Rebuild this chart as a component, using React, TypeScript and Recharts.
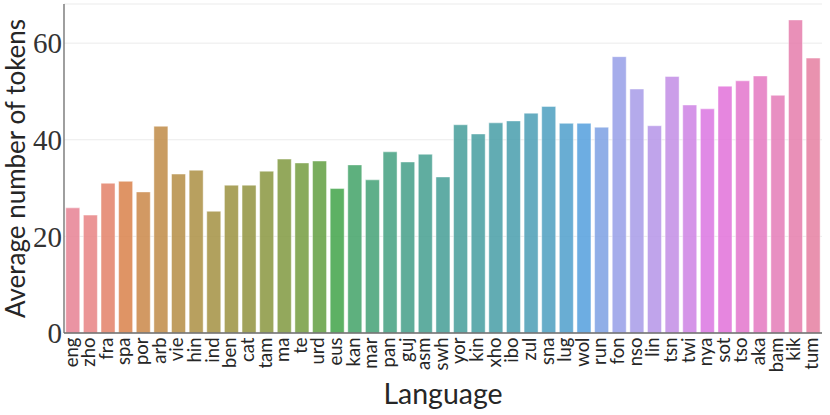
import React from "react";
import { BarChart, Bar, XAxis, YAxis, CartesianGrid, Cell, Label } from "recharts";

const languages = [
  "eng", "zho", "fra", "spa", "por", "arb", "vie", "hin", "ind", "ben", "cat", "tam", "ma", "te",
  "urd", "eus", "kan", "mar", "pan", "guj", "asm", "swh", "yor", "kin", "xho", "ibo", "zul", "sna",
  "lug", "wol", "run", "fon", "nso", "lin", "tsn", "twi", "nya", "sot", "tso", "aka", "bam", "kik", "tum",
];
const tokens = [
  25.9, 24.4, 31.0, 31.4, 29.2, 42.8, 32.9, 33.7, 25.2, 30.6, 30.6, 33.5, 36.0, 35.2,
  35.6, 29.9, 34.8, 31.7, 37.5, 35.4, 37.0, 32.3, 43.1, 41.2, 43.5, 43.9, 45.5, 46.9,
  43.4, 43.4, 42.6, 57.2, 50.5, 42.9, 53.1, 47.2, 46.4, 51.1, 52.2, 53.2, 49.2, 64.8, 56.9,
];
const yTicks = [0, 20, 40, 60];

const data = languages.map((lang, i) => ({ lang, tokens: tokens[i] }));

// --- seaborn husl palette (desaturated like barplot) ---
const M = [
  [3.2406, -1.5372, -0.4986],
  [-0.9689, 1.8758, 0.0415],
  [0.0557, -0.204, 1.057],
];
const refU = 0.19784, refV = 0.46834, labE = 0.008856, labK = 903.3;

function maxChroma(L: number, H: number) {
  const hrad = (H * Math.PI) / 180;
  const sinH = Math.sin(hrad), cosH = Math.cos(hrad);
  const sub1 = Math.pow(L + 16, 3) / 1560896;
  const sub2 = sub1 > labE ? sub1 : L / labK;
  let result = Infinity;
  for (const [m1, m2, m3] of M) {
    const top = (0.99915 * m1 + 1.05122 * m2 + 1.1446 * m3) * sub2;
    const rbottom = 0.8633 * m3 - 0.17266 * m2;
    const lbottom = 0.12949 * m3 - 0.38848 * m1;
    const bottom = (rbottom * sinH + lbottom * cosH) * sub2;
    for (const t of [0, 1]) {
      const C = (L * (top - 1.05122 * t)) / (bottom + 0.17266 * sinH * t);
      if (C > 0 && C < result) result = C;
    }
  }
  return result;
}
function fInv(t: number) {
  return Math.pow(t, 3) > labE ? Math.pow(t, 3) : (116 * t - 16) / labK;
}
function fromLinear(c: number) {
  return c <= 0.0031308 ? 12.92 * c : 1.055 * Math.pow(c, 1 / 2.4) - 0.055;
}
function huslToRgb(H: number, S: number, L: number): number[] {
  const C = (maxChroma(L, H) / 100) * S;
  const hr = (H * Math.PI) / 180;
  const U = C * Math.cos(hr), V = C * Math.sin(hr);
  const varY = fInv((L + 16) / 116);
  const varU = U / (13 * L) + refU;
  const varV = V / (13 * L) + refV;
  const Y = varY;
  const X = 0 - (9 * Y * varU) / ((varU - 4) * varV - varU * varV);
  const Z = (9 * Y - 15 * varV * Y - varV * X) / (3 * varV);
  return M.map((r) => Math.min(1, Math.max(0, fromLinear(r[0] * X + r[1] * Y + r[2] * Z))));
}
function desaturate([r, g, b]: number[], prop: number) {
  const maxc = Math.max(r, g, b), minc = Math.min(r, g, b);
  const l = (maxc + minc) / 2;
  if (maxc === minc) return [r, g, b];
  const d = maxc - minc;
  let s = l <= 0.5 ? d / (maxc + minc) : d / (2 - maxc - minc);
  const rc = (maxc - r) / d, gc = (maxc - g) / d, bc = (maxc - b) / d;
  let h = r === maxc ? bc - gc : g === maxc ? 2 + rc - bc : 4 + gc - rc;
  h = (((h / 6) % 1) + 1) % 1;
  s *= prop;
  const m2 = l <= 0.5 ? l * (1 + s) : l + s - l * s;
  const m1 = 2 * l - m2;
  const v = (hue: number) => {
    hue = ((hue % 1) + 1) % 1;
    if (hue < 1 / 6) return m1 + (m2 - m1) * hue * 6;
    if (hue < 0.5) return m2;
    if (hue < 2 / 3) return m1 + (m2 - m1) * (2 / 3 - hue) * 6;
    return m1;
  };
  return [v(h + 1 / 3), v(h), v(h - 1 / 3)];
}
function toHex(c: number[]) {
  return "#" + c.map((x) => Math.round(x * 255).toString(16).padStart(2, "0")).join("");
}
function huslPalette(n: number) {
  const out: string[] = [];
  for (let i = 0; i < n; i++) {
    const h = ((i / n + 0.01) % 1) * 359;
    out.push(toHex(desaturate(huslToRgb(h, 0.9 * 99, 0.65 * 99), 0.75)));
  }
  return out;
}
const colors = huslPalette(languages.length);

const XTick = (props: any) => {
  const { x, y, payload } = props;
  return (
    <text
      x={x}
      y={y}
      dy={4.8}
      transform={`rotate(-90 ${x} ${y})`}
      textAnchor="end"
      fontFamily="Lato"
      fontSize={18.5}
      fill="#262626"
    >
      {payload.value}
    </text>
  );
};

const YLabel = (props: any) => {
  const vb = props.viewBox || {};
  const cx = 24.5;
  const cy = vb.y + vb.height / 2;
  return (
    <text
      x={cx}
      y={cy}
      transform={`rotate(-90 ${cx} ${cy})`}
      textAnchor="middle"
      fontFamily="Lato"
      fontSize={26}
      fill="#262626"
    >
      Average number of tokens
    </text>
  );
};

const XLabel = (props: any) => {
  const vb = props.viewBox || {};
  const cx = vb.x + vb.width / 2;
  return (
    <text x={cx} y={404} textAnchor="middle" fontFamily="Lato" fontSize={28.5} fill="#262626">
      Language
    </text>
  );
};

export default function App() {
  return (
    <div style={{ position: "absolute", left: 0, top: 0, width: 830, height: 415, background: "#fff" }}>
      <BarChart
        width={830}
        height={415}
        data={data}
        margin={{ top: 4, right: 8, bottom: 0, left: 0 }}
        barCategoryGap="10%"
      >
        <CartesianGrid vertical={false} stroke="#ebebeb" strokeWidth={1} />
        <XAxis
          dataKey="lang"
          interval={0}
          height={82}
          tickLine={false}
          tickSize={0}
          tickMargin={4.5}
          tick={<XTick />}
          axisLine={{ stroke: "#6b6b6b", strokeWidth: 1.3 }}
        >
          <Label content={<XLabel />} />
        </XAxis>
        <YAxis
          width={64}
          domain={[0, 68.1]}
          ticks={yTicks}
          allowDataOverflow
          tickLine={false}
          tickSize={0}
          tickMargin={2}
          axisLine={{ stroke: "#6b6b6b", strokeWidth: 1.3 }}
          tick={{ fontFamily: "Liberation Serif", fontSize: 29, fill: "#333" }}
        >
          <Label content={<YLabel />} />
        </YAxis>
        <Bar
          dataKey="tokens"
          isAnimationActive={false}
          fillOpacity={0.85}
          stroke="#ffffff"
          strokeOpacity={0.45}
          strokeWidth={1}
        >
          {data.map((d, i) => (
            <Cell key={d.lang} fill={colors[i]} />
          ))}
        </Bar>
      </BarChart>
    </div>
  );
}
